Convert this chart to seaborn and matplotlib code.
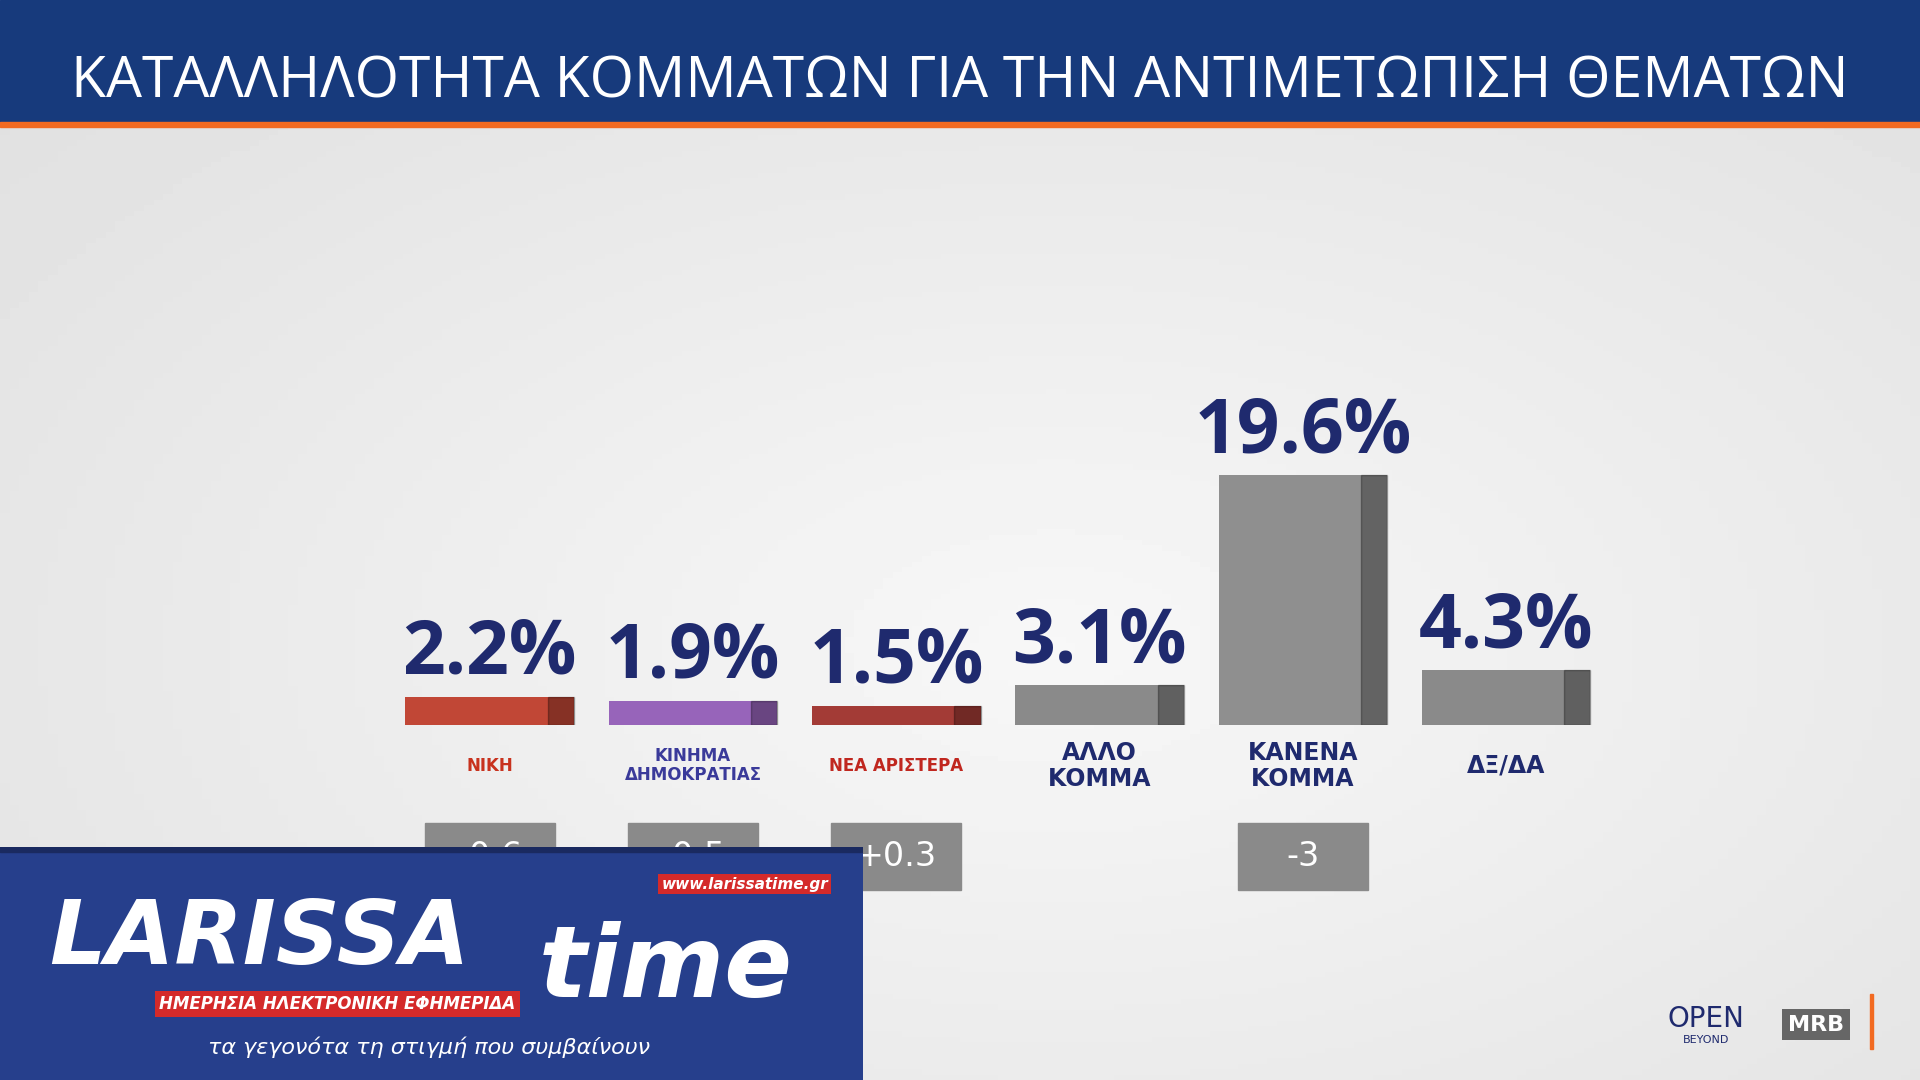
import numpy as np
import pandas as pd
import seaborn as sns
import matplotlib.pyplot as plt
from matplotlib.patches import Rectangle

parties = ["ΝΙΚΗ", "ΚΙΝΗΜΑ\nΔΗΜΟΚΡΑΤΙΑΣ", "ΝΕΑ ΑΡΙΣΤΕΡΑ", "ΑΛΛΟ\nΚΟΜΜΑ", "ΚΑΝΕΝΑ\nΚΟΜΜΑ", "ΔΞ/ΔΑ"]
values = [2.2, 1.9, 1.5, 3.1, 19.6, 4.3]
changes = ["-0.6", "-0.5", "+0.3", "", "-3", ""]
colors = ["#d8361f", "#9a56c8", "#b52a24", "#8a8a8a", "#8f8f8f", "#8a8a8a"]
label_colors = ["#c8321e", "#3a3a9a", "#c0271f", "#1f2a6e", "#1f2a6e", "#1f2a6e"]

sns.set_theme(style="white")
plt.rcParams['font.family'] = ['DejaVu Sans']

W, H = 1568, 882
fig = plt.figure(figsize=(19.2, 10.8), dpi=100)

# background
bg = fig.add_axes([0, 0, 1, 1])
yy, xx = np.mgrid[0:1:200j, 0:1:200j]
grad = 0.97 - 0.12 * np.sqrt((xx - 0.55) ** 2 + (yy - 0.6) ** 2)
bg.imshow(grad, cmap="gray", vmin=0, vmax=1, extent=[0, 1, 0, 1], aspect="auto")
bg.set_xlim(0, 1); bg.set_ylim(0, 1); bg.axis("off")
bg.add_patch(Rectangle((0, 1 - 100 / H), 1, 100 / H, color="#173a7c"))
bg.add_patch(Rectangle((0, 1 - 104 / H), 1, 4 / H, color="#f26a21"))
bg.text(0.5, 1 - 68 / H, "ΚΑΤΑΛΛΗΛΟΤΗΤΑ ΚΟΜΜΑΤΩΝ ΓΙΑ ΤΗΝ ΑΝΤΙΜΕΤΩΠΙΣΗ ΘΕΜΑΤΩΝ",
        ha="center", va="center", color="white", fontsize=41, family="Open Sans")
bg.text(1393 / W, 50 / H, "OPEN", color="#1f2a6e", fontsize=20, ha="center", va="center")
bg.text(1393 / W, 33 / H, "BEYOND", color="#1f2a6e", fontsize=8, ha="center", va="center")
bg.text(1483 / W, 45 / H, "MRB", color="white", fontsize=16, fontweight="bold", ha="center",
        va="center", bbox=dict(facecolor="#666666", edgecolor="none", pad=4))
bg.add_patch(Rectangle((1527 / W, 25 / H), 3 / W, 45 / H, color="#f26a21"))

# bars
ax = fig.add_axes([317 / W, (H - 592) / H, 996 / W, 208 / H])
df = pd.DataFrame({"party": parties, "value": values})
sns.barplot(data=df, x="party", y="value", hue="party", palette=colors,
            width=0.83, legend=False, ax=ax, edgecolor="none")
ax.set_xlim(-0.5, 5.5); ax.set_ylim(0, 20)
ax.axis("off")
ax.patch.set_alpha(0)
for i, (v, c) in enumerate(zip(values, changes)):
    ax.text(i, v + 0.4, f"{v}%", ha="center", va="bottom", fontsize=54,
            fontweight="bold", color="#1f2a6e", family="Open Sans")
    ax.add_patch(Rectangle((i + 0.415 - 0.13, 0), 0.13, v, color="black", alpha=0.3))
    ax.text(i, -3.2, parties[i], ha="center", va="center", fontsize=17 if i > 2 else 12,
            fontweight="bold", color=label_colors[i], clip_on=False, linespacing=1.1)
    if c:
        ax.add_patch(Rectangle((i - 0.32, -13.0), 0.64, 5.3, color="#8a8a8a", clip_on=False))
        ax.text(i, -10.35, c, ha="center", va="center", fontsize=24, color="white",
                clip_on=False)

# logo overlay on top
lg = fig.add_axes([0, 0, 705 / W, 190 / H])
lg.set_xlim(0, 705); lg.set_ylim(0, 190); lg.axis("off")
lg.add_patch(Rectangle((0, 0), 705, 190, color="#263f8c"))
lg.add_patch(Rectangle((0, 186), 705, 4, color="#1a2a60"))
lg.text(40, 115, "LARISSA", color="white", fontsize=64, fontweight="bold",
        style="italic", va="center")
lg.text(440, 90, "time", color="white", fontsize=72, style="italic",
        fontweight="bold", va="center")
lg.text(130, 62, "ΗΜΕΡΗΣΙΑ ΗΛΕΚΤΡΟΝΙΚΗ ΕΦΗΜΕΡΙΔΑ", color="white", fontsize=12,
        fontweight="bold", style="italic", va="center",
        bbox=dict(facecolor="#d42a2a", edgecolor="none", pad=3))
lg.text(540, 160, "www.larissatime.gr", color="white", fontsize=11,
        fontweight="bold", style="italic", va="center",
        bbox=dict(facecolor="#d42a2a", edgecolor="none", pad=2))
lg.text(350, 27, "τα γεγονότα τη στιγμή που συμβαίνουν", color="white",
        fontsize=16, style="italic", ha="center", va="center")

fig.savefig("out.png", dpi=100)
